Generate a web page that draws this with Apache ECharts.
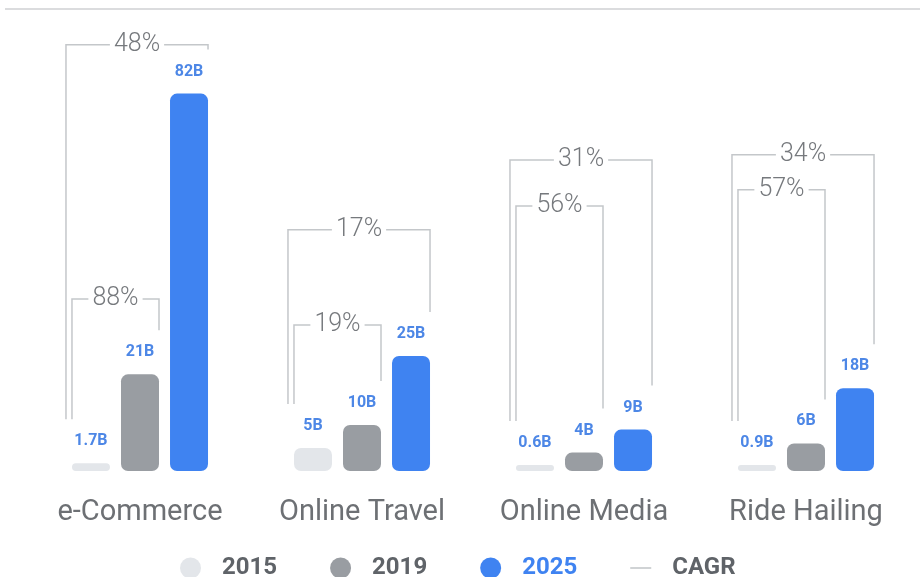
<!DOCTYPE html>
<html>
<head>
<meta charset="utf-8">
<script src="https://cdn.jsdelivr.net/npm/echarts@6/dist/echarts.min.js"></script>
<style>html,body{margin:0;padding:0;background:#fff}#c{width:920px;height:577px}</style>
</head>
<body>
<div id="c"></div>
<script>
const categories = ['e-Commerce', 'Online Travel', 'Online Media', 'Ride Hailing'];
const years = ['2015', '2019', '2025'];
const values2015 = [1.7, 5, 0.6, 0.9];
const values2019 = [21, 10, 4, 6];
const values2025 = [82, 25, 9, 18];
const valueLabels2015 = ['1.7B', '5B', '0.6B', '0.9B'];
const valueLabels2019 = ['21B', '10B', '4B', '6B'];
const valueLabels2025 = ['82B', '25B', '9B', '18B'];
// CAGR brackets: 2015→2019 (inner) and 2015→2025 (outer)
const cagrInner = ['88%', '19%', '56%', '57%'];
const cagrOuter = ['48%', '17%', '31%', '34%'];
// bracket heights, in the value axis units (B)
const cagrInnerLevel = [37.4, 31.7, 57.6, 61.1];
const cagrOuterLevel = [92.6, 52.4, 67.6, 68.7];

const seriesVals = [values2015, values2019, values2025];
const seriesLabels = [valueLabels2015, valueLabels2019, valueLabels2025];
const colors = ['#e3e6ea', '#999da2', '#3f83f1'];
const BAR_W = 38, GAP = 0.29, MIN_H = 6, LINE_OFF = 44;

const cagrData = [];
categories.forEach((c, i) => {
  cagrData.push({ value: [i, 1, cagrInnerLevel[i]], label: cagrInner[i] });
  cagrData.push({ value: [i, 2, cagrOuterLevel[i]], label: cagrOuter[i] });
});

const chart = echarts.init(document.getElementById('c'), null, { renderer: 'canvas' });

const barSeries = years.map((y, s) => ({
  name: y,
  type: 'bar',
  data: seriesVals[s],
  barWidth: BAR_W,
  barGap: (GAP * 100) + '%',
  barMinHeight: MIN_H,
  itemStyle: { color: colors[s], borderRadius: 7 },
  label: {
    show: true,
    position: 'top',
    distance: 14,
    formatter: p => seriesLabels[s][p.dataIndex],
    color: '#4d87e6',
    fontFamily: 'Roboto',
    fontWeight: 'bold',
    fontSize: 16
  },
  emphasis: { disabled: true }
}));

const cagrSeries = {
  name: 'CAGR',
  type: 'custom',
  clip: false,
  z: 1,
  encode: { x: 0, y: 2 },
  itemStyle: { color: '#c4c7ca' },
  data: cagrData,
  renderItem: (params, api) => {
    const cat = api.value(0), to = api.value(1), lvl = api.value(2);
    const c = api.coord([cat, lvl]);
    const cx = c[0], ly = c[1];
    const baseY = api.coord([cat, 0])[1];
    const pitch = BAR_W * (1 + GAP);
    const barTop = s => Math.min(api.coord([cat, seriesVals[s][cat]])[1], baseY - MIN_H);
    const leftX = cx - pitch - BAR_W / 2 - (to === 2 ? 6 : 0);
    const rightX = cx + (to - 1) * pitch + BAR_W / 2;
    const leftEnd = barTop(0) - LINE_OFF;
    const rightEnd = barTop(to) - LINE_OFF;
    const label = cagrData[params.dataIndex].label;
    return {
      type: 'group',
      children: [
        {
          type: 'polyline',
          shape: { points: [[leftX, leftEnd], [leftX, ly], [rightX, ly], [rightX, rightEnd]] },
          style: { stroke: '#c4c7ca', lineWidth: 1.5, fill: null }
        },
        {
          type: 'text',
          x: (leftX + rightX) / 2,
          y: ly,
          style: {
            text: label,
            align: 'center',
            verticalAlign: 'middle',
            fill: '#76797d',
            fontFamily: 'Roboto',
            fontWeight: 300,
            fontSize: 25,
            backgroundColor: '#fff',
            padding: [0, 4]
          }
        }
      ]
    };
  }
};

chart.setOption({
  animation: false,
  backgroundColor: '#fff',
  graphic: [{
    type: 'line',
    shape: { x1: 5, y1: 9, x2: 920, y2: 9 },
    style: { stroke: '#cfd1d3', lineWidth: 1.5 }
  }],
  grid: { left: 29, right: 3, top: 43, bottom: 106 },
  legend: {
    left: 175,
    top: 551,
    itemWidth: 21,
    itemHeight: 21,
    itemGap: 53,
    selectedMode: false,
    textStyle: {
      fontFamily: 'Roboto',
      fontWeight: 'bold',
      fontSize: 24,
      color: '#5f6368',
      padding: [0, 0, 0, 16]
    },
    data: [
      { name: '2015', icon: 'circle' },
      { name: '2019', icon: 'circle' },
      { name: '2025', icon: 'circle', textStyle: { color: '#3f83f1' } },
      { name: 'CAGR', icon: 'path://M0,0 L20,0 L20,1.5 L0,1.5 Z' }
    ]
  },
  xAxis: {
    type: 'category',
    data: categories,
    axisLine: { show: false },
    axisTick: { show: false },
    axisLabel: {
      margin: 27,
      fontFamily: 'Roboto',
      fontSize: 29,
      color: '#6d7074'
    }
  },
  yAxis: {
    type: 'value',
    min: 0,
    max: 93,
    show: false,
    splitLine: { show: false }
  },
  series: [...barSeries, cagrSeries]
});
</script>
</body>
</html>
